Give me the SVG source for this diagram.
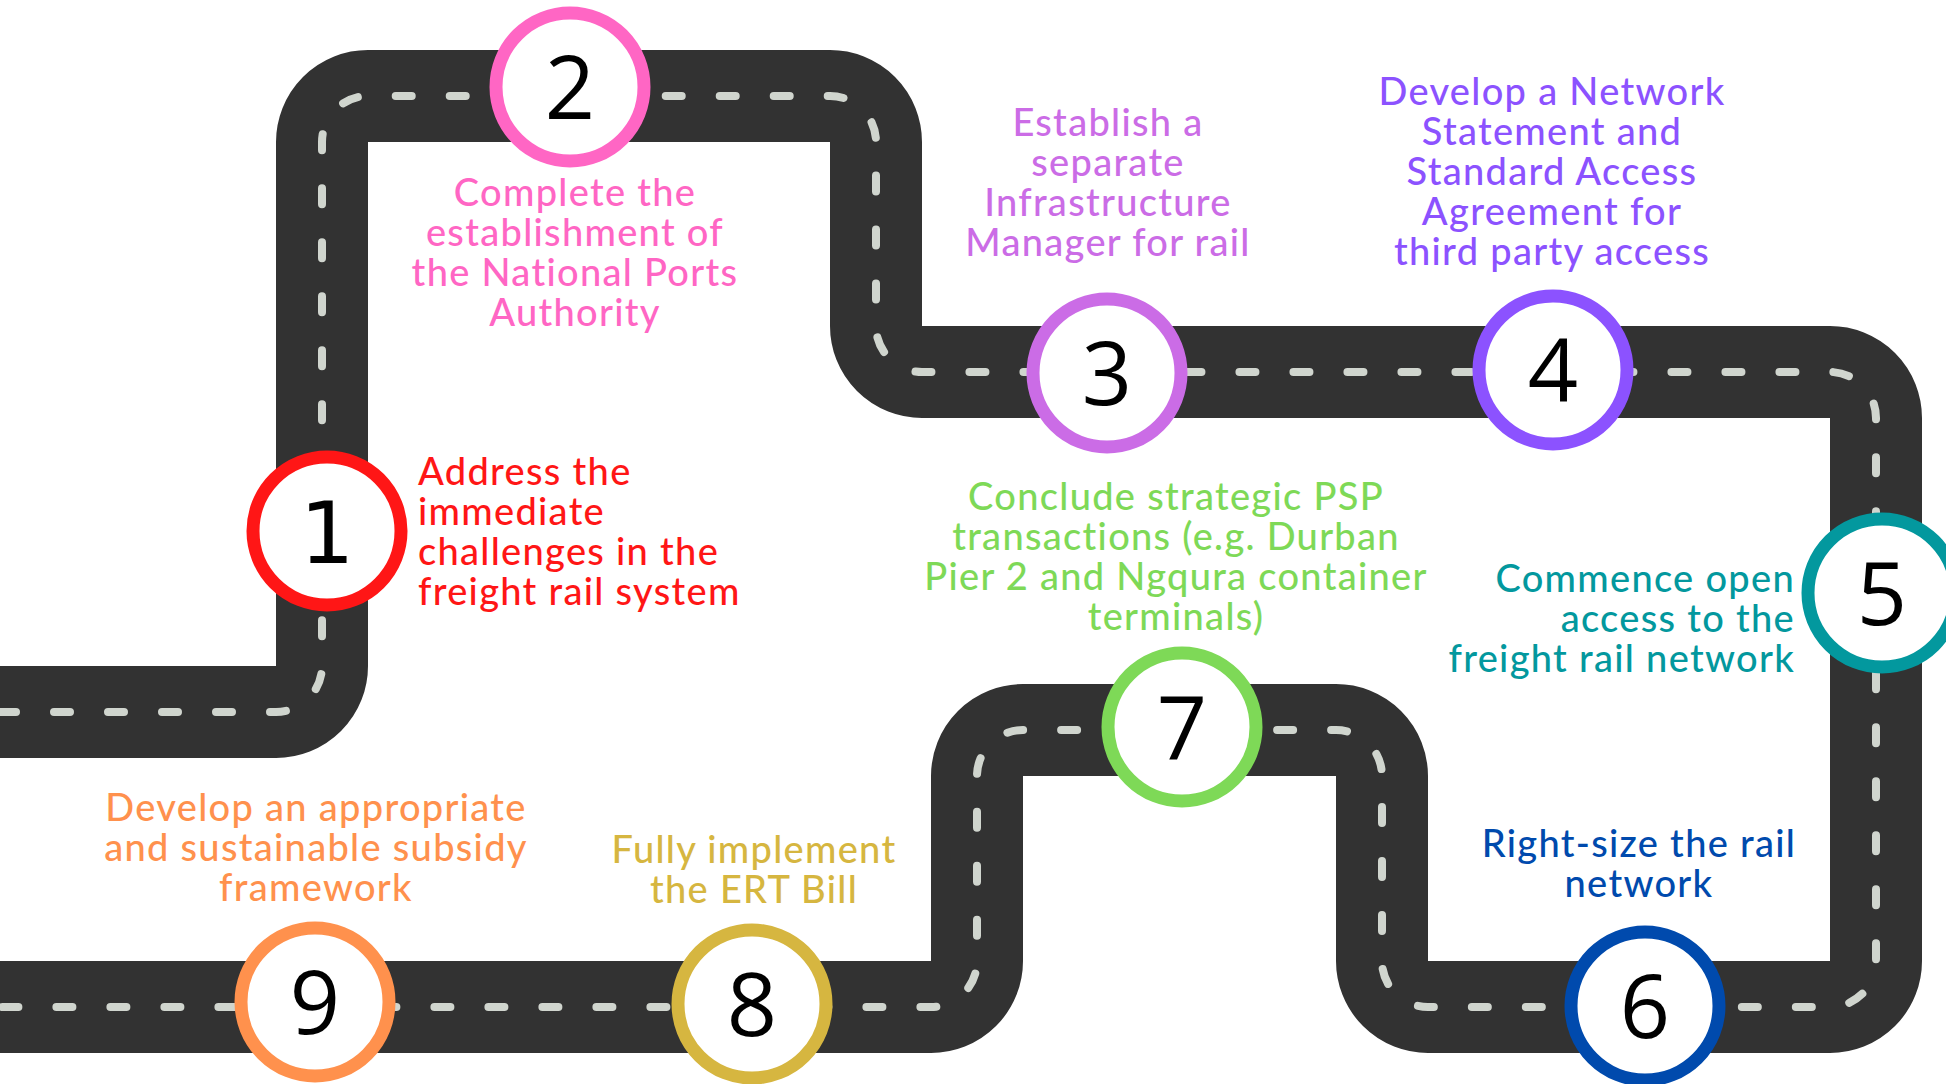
<svg xmlns="http://www.w3.org/2000/svg" width="1946" height="1084" viewBox="0 0 1946 1084">
<style>
.road{fill:none;stroke:#323232;stroke-width:92;stroke-linejoin:miter}
.lane{fill:none;stroke:#d0d5ce;stroke-width:8;stroke-linecap:round;stroke-dasharray:16 38}
.ring{fill:#ffffff;stroke-width:13}
.num{font-family:"Open Sans","Liberation Sans",sans-serif;font-size:88px;fill:#000000;text-anchor:middle}
.lbl{font-family:Lato,"Liberation Sans",sans-serif;font-size:38px;font-weight:500;letter-spacing:1.3px}
.c{text-anchor:middle}
.r{text-anchor:end}
</style>
<rect width="1946" height="1084" fill="#ffffff"/>
<g id="connectors">
<path id="road" class="road" d="M 0 712 H 276 A 46 46 0 0 0 322 666 V 142 A 46 46 0 0 1 368 96 H 830 A 46 46 0 0 1 876 142 V 326 A 46 46 0 0 0 922 372 H 1830 A 46 46 0 0 1 1876 418 V 961 A 46 46 0 0 1 1830 1007 H 1428 A 46 46 0 0 1 1382 961 V 776 A 46 46 0 0 0 1336 730 H 1023 A 46 46 0 0 0 977 776 V 961 A 46 46 0 0 1 931 1007 H 0"/>
<path id="lane" class="lane" d="M 0 712 H 276 A 46 46 0 0 0 322 666 V 142 A 46 46 0 0 1 368 96 H 830 A 46 46 0 0 1 876 142 V 326 A 46 46 0 0 0 922 372 H 1830 A 46 46 0 0 1 1876 418 V 961 A 46 46 0 0 1 1830 1007 H 1428 A 46 46 0 0 1 1382 961 V 776 A 46 46 0 0 0 1336 730 H 1023 A 46 46 0 0 0 977 776 V 961 A 46 46 0 0 1 931 1007 H 0"/>
</g>
<g id="node1">
<circle class="ring" cx="327" cy="531" r="74" stroke="#ff1616"/>
<text class="num" x="327" y="563" style="font-family:'DejaVu Sans',sans-serif;font-size:86px">1</text>
<text class="lbl" fill="#ff1616" x="418"><tspan x="418" y="485">Address the</tspan><tspan x="418" y="525">immediate</tspan><tspan x="418" y="565">challenges in the</tspan><tspan x="418" y="605">freight rail system</tspan></text>
</g>
<g id="node2">
<circle class="ring" cx="570" cy="87" r="74" stroke="#ff66c4"/>
<text class="num" x="570" y="119">2</text>
<text class="lbl c" fill="#ff66c4"><tspan x="575" y="206">Complete the</tspan><tspan x="575" y="246">establishment of</tspan><tspan x="575" y="286">the National Ports</tspan><tspan x="575" y="326">Authority</tspan></text>
</g>
<g id="node3">
<circle class="ring" cx="1107" cy="373" r="74" stroke="#cb6ce6"/>
<text class="num" x="1107" y="405">3</text>
<text class="lbl c" fill="#cb6ce6"><tspan x="1108" y="136">Establish a</tspan><tspan x="1108" y="176">separate</tspan><tspan x="1108" y="216">Infrastructure</tspan><tspan x="1108" y="256">Manager for rail</tspan></text>
</g>
<g id="node4">
<circle class="ring" cx="1553" cy="370" r="74" stroke="#8c52ff"/>
<text class="num" x="1553" y="402">4</text>
<text class="lbl c" fill="#8c52ff"><tspan x="1552" y="105">Develop a Network</tspan><tspan x="1552" y="145">Statement and</tspan><tspan x="1552" y="185">Standard Access</tspan><tspan x="1552" y="225">Agreement for</tspan><tspan x="1552" y="265">third party access</tspan></text>
</g>
<g id="node5">
<circle class="ring" cx="1882" cy="593" r="74" stroke="#03989e"/>
<text class="num" x="1882" y="625">5</text>
<text class="lbl r" fill="#03989e"><tspan x="1795" y="592">Commence open</tspan><tspan x="1795" y="632">access to the</tspan><tspan x="1795" y="672">freight rail network</tspan></text>
</g>
<g id="node6">
<circle class="ring" cx="1645" cy="1006" r="74" stroke="#004aad"/>
<text class="num" x="1645" y="1038">6</text>
<text class="lbl c" fill="#004aad"><tspan x="1639" y="857">Right-size the rail</tspan><tspan x="1639" y="897">network</tspan></text>
</g>
<g id="node7">
<circle class="ring" cx="1182" cy="727" r="74" stroke="#7ed957"/>
<text class="num" x="1182" y="759">7</text>
<text class="lbl c" fill="#7ed957"><tspan x="1176" y="510">Conclude strategic PSP</tspan><tspan x="1176" y="550">transactions (e.g. Durban</tspan><tspan x="1176" y="590">Pier 2 and Ngqura container</tspan><tspan x="1176" y="630">terminals)</tspan></text>
</g>
<g id="node8">
<circle class="ring" cx="752" cy="1004" r="74" stroke="#d6b640"/>
<text class="num" x="752" y="1036">8</text>
<text class="lbl c" fill="#d6b640"><tspan x="754" y="863">Fully implement</tspan><tspan x="754" y="903">the ERT Bill</tspan></text>
</g>
<g id="node9">
<circle class="ring" cx="315" cy="1002" r="74" stroke="#ff914d"/>
<text class="num" x="315" y="1034">9</text>
<text class="lbl c" fill="#ff914d"><tspan x="316" y="821">Develop an appropriate</tspan><tspan x="316" y="861">and sustainable subsidy</tspan><tspan x="316" y="901">framework</tspan></text>
</g>
</svg>
